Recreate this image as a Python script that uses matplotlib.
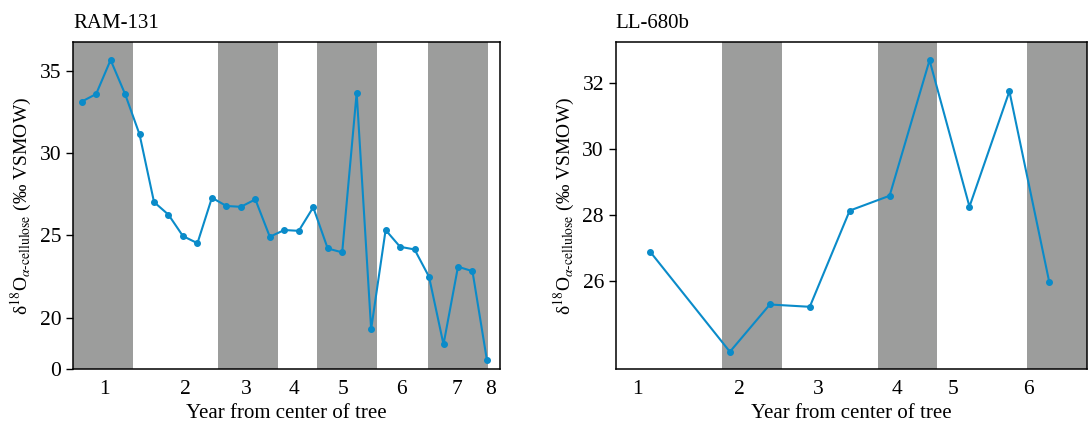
import matplotlib
matplotlib.use("Agg")
import matplotlib.pyplot as plt

plt.rcParams['font.family'] = ['Liberation Serif', 'DejaVu Serif']
plt.rcParams['mathtext.fontset'] = 'stix'

# RAM-131 (left panel), samples in order along the radius
ram_pos = list(range(29))
ram_d18o = [33.12, 33.58, 35.65, 33.58, 31.13, 27.02, 26.25, 24.95, 24.52, 27.28,
            26.78, 26.73, 27.18, 24.91, 25.32, 25.27, 26.70, 24.20, 23.96, 33.66,
            19.30, 25.32, 24.30, 24.14, 22.48, 18.37, 23.09, 22.82, 17.41]
ram_year_ticks = [1.56, 7.18, 11.40, 14.69, 18.07, 22.06, 25.95, 28.26]
ram_year_labels = ['1', '2', '3', '4', '5', '6', '7', '8']
ram_bands = [(-0.6, 3.52), (9.44, 13.54), (16.28, 20.38), (23.94, 28.05)]
ram_ylim = (16.86, 36.76)
ram_yticks = [16.86, 20, 25, 30, 35]
ram_ylabels = ['0', '20', '25', '30', '35']

# LL-680b (right panel)
ll_pos = [0, 2, 3, 4, 5, 6, 7, 8, 9, 10]
ll_d18o = [26.89, 23.86, 25.29, 25.22, 28.13, 28.58, 32.68, 28.25, 31.74, 25.96]
ll_year_ticks = [-0.32, 2.24, 4.21, 6.19, 7.58, 9.48]
ll_year_labels = ['1', '2', '3', '4', '5', '6']
ll_bands = [(1.81, 3.30), (5.70, 7.18), (9.45, 10.95)]
ll_ylim = (23.33, 33.24)
ll_yticks = [26, 28, 30, 32]

line_color = '#0a8bc9'
band_color = '#9c9d9c'
ylabel = r'δ$^{18}$O$_{\alpha\text{-cellulose}}$ (‰ VSMOW)'

fig = plt.figure(figsize=(10.89, 4.23), dpi=100)
ax1 = fig.add_axes([0.0670, 0.1270, 0.3921, 0.7744])
ax2 = fig.add_axes([0.5654, 0.1270, 0.4330, 0.7744])


def draw_panel(ax, pos, vals, bands, xlim, ylim, xticks, xlabels, title):
    for a, b in bands:
        ax.axvspan(a, b, color=band_color, lw=0, zorder=0)
    ax.plot(pos, vals, color=line_color, lw=1.5, marker='o', ms=4, zorder=3)
    ax.set_xlim(*xlim)
    ax.set_ylim(*ylim)
    ax.set_xticks(xticks)
    ax.set_xticklabels(xlabels)
    ax.tick_params(axis='x', length=0, labelsize=15.5, pad=8)
    ax.tick_params(axis='y', length=5, width=1, labelsize=15.5, direction='out')
    for s in ax.spines.values():
        s.set_linewidth(1.1)
    ax.set_title(title, loc='left', fontsize=15, pad=10)
    ax.set_xlabel('Year from center of tree', fontsize=15, labelpad=3)
    ax.set_ylabel(ylabel, fontsize=14, labelpad=4)


draw_panel(ax1, ram_pos, ram_d18o, ram_bands, (-0.6, 28.9), ram_ylim,
           ram_year_ticks, ram_year_labels, 'RAM-131')
ax1.set_yticks(ram_yticks)
ax1.set_yticklabels(ram_ylabels)

draw_panel(ax2, ll_pos, ll_d18o, ll_bands, (-0.86, 10.95), ll_ylim,
           ll_year_ticks, ll_year_labels, 'LL-680b')
ax2.set_yticks(ll_yticks)

fig.savefig('out.png', dpi=100)
